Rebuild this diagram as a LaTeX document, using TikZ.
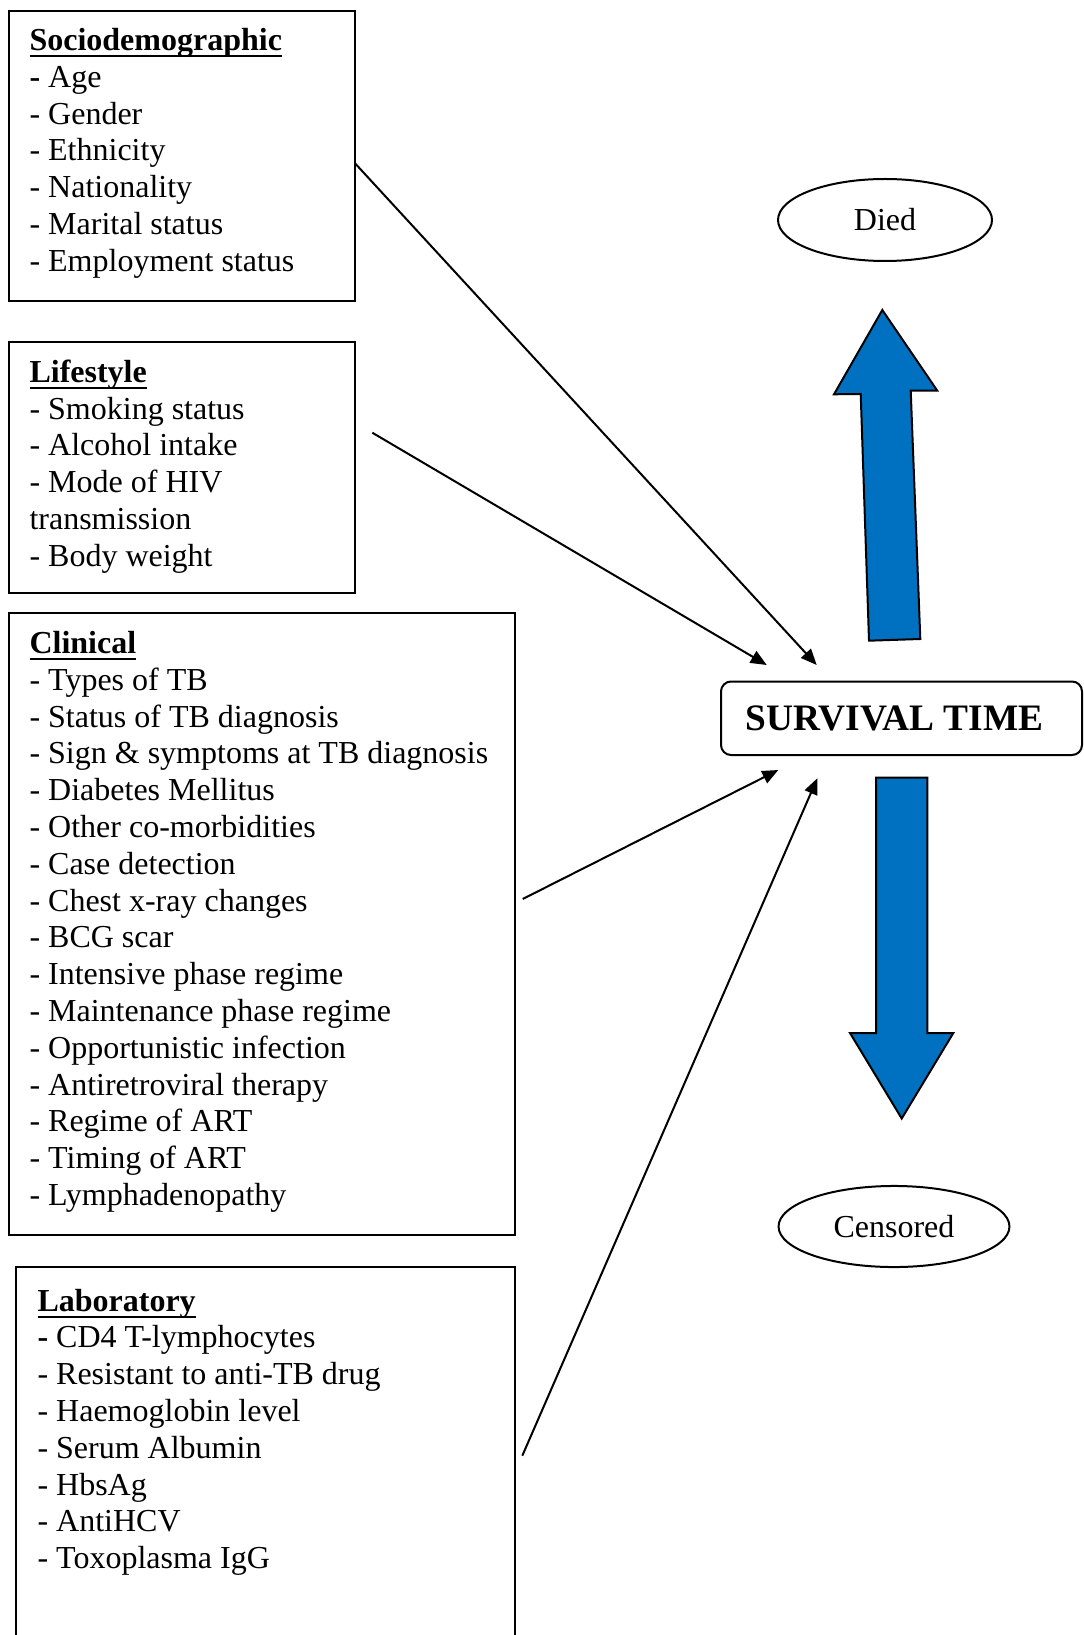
\documentclass[tikz,border=0pt]{standalone}
\usepackage{fontspec}
\setmainfont{Liberation Serif}
\usetikzlibrary{arrows.meta,shapes.geometric,fit}
\definecolor{arrowblue}{HTML}{0070C0}
\newcommand{\boxtitle}[1]{\strut\setbox0\hbox{\textbf{#1}}\rlap{\rule[-2.6pt]{\wd0}{0.9pt}}\box0}
\begin{document}
\begin{tikzpicture}[x=0.375pt,y=-0.375pt,
  box/.style={draw, line width=0.75pt, inner sep=0pt},
  txt/.style={anchor=north west, inner sep=0pt, align=left, font=\fontsize{12}{13.8}\selectfont},
  conn/.style={line width=0.75pt, -{Triangle[length=6pt,width=5pt]}},
  bigarrow/.style={fill=arrowblue, draw=black, line width=0.75pt, line join=miter},
  oval/.style={draw, ellipse, line width=0.75pt, inner sep=0pt, font=\fontsize{12}{13.8}\selectfont}]
\useasboundingbox (0,0) rectangle (1083,1635);
\clip (0,0) rectangle (1083,1635);

% factor boxes
\node[box, fit={(9,11) (355,301)}] (socio) {};
\node[txt] (sociot) at (29,24.2) {\boxtitle{Sociodemographic}\\
\strut\textbf{-} Age\\
\strut- Gender\\
\strut- Ethnicity\\
\strut- Nationality\\
\strut- Marital status\\
\strut- Employment status};

\node[box, fit={(9,342) (355,593)}] (life) {};
\node[txt] (lifet) at (29,356) {\boxtitle{Lifestyle}\\
\strut- Smoking status\\
\strut- Alcohol intake\\
\strut- Mode of HIV\\
\strut transmission\\
\strut- Body weight};

\node[box, fit={(9,613) (515,1235)}] (clin) {};
\node[txt] (clint) at (29,627.2) {\boxtitle{Clinical}\\
\strut- Types of TB\\
\strut- Status of TB diagnosis\\
\strut- Sign \& symptoms at TB diagnosis\\
\strut- Diabetes Mellitus\\
\strut- Other co-morbidities\\
\strut- Case detection\\
\strut- Chest x-ray changes\\
\strut- BCG scar\\
\strut- Intensive phase regime\\
\strut- Maintenance phase regime\\
\strut- Opportunistic infection\\
\strut- Antiretroviral therapy\\
\strut- Regime of ART\\
\strut- Timing of ART\\
\strut- Lymphadenopathy};

\node[box, fit={(16,1267) (515,1700)}] (lab) {};
\node[txt] (labt) at (37,1284.8) {\boxtitle{Laboratory}\\
\strut\textbf{-} CD4 T-lymphocytes\\
\strut- Resistant to anti-TB drug\\
\strut- Haemoglobin level\\
\strut- Serum Albumin\\
\strut- HbsAg\\
\strut- AntiHCV\\
\strut- Toxoplasma IgG};

% outcome
\node[box, rounded corners=3.75pt, fit={(721,681.5) (1082,755)}] (surv) {};
\node[anchor=base west, inner sep=0pt, font=\fontsize{14}{16}\selectfont\bfseries] (survt) at (745,730) {SURVIVAL TIME};

\node[oval, minimum width=80.25pt, minimum height=30.75pt] (died) at (885,220) {Died};
\node[oval, minimum width=86.6pt, minimum height=30.4pt] (cens) at (894,1226.5) {Censored};

% big blue arrows
\draw[bigarrow] (882.3,310) -- (937.3,390.7) -- (910.7,390.7) -- (920.3,639)
  -- (869,640.7) -- (860.7,394) -- (834,394.3) -- cycle;
\draw[bigarrow] (876,777.5) -- (927.3,777.5) -- (927.3,1033) -- (953.3,1033)
  -- (901.7,1118.5) -- (850,1033) -- (876,1033) -- cycle;

% connectors
\coordinate (c1s) at (355,163.3);   \coordinate (c1e) at (816.7,665);
\coordinate (c2s) at (372.3,432.7); \coordinate (c2e) at (766.7,665);
\coordinate (c3s) at (522.7,899);   \coordinate (c3e) at (778.3,770);
\coordinate (c4s) at (522.3,1455.7);\coordinate (c4e) at (817.3,778.3);
\draw[conn] (c1s) -- (c1e);
\draw[conn] (c2s) -- (c2e);
\draw[conn] (c3s) -- (c3e);
\draw[conn] (c4s) -- (c4e);
\end{tikzpicture}
\end{document}
